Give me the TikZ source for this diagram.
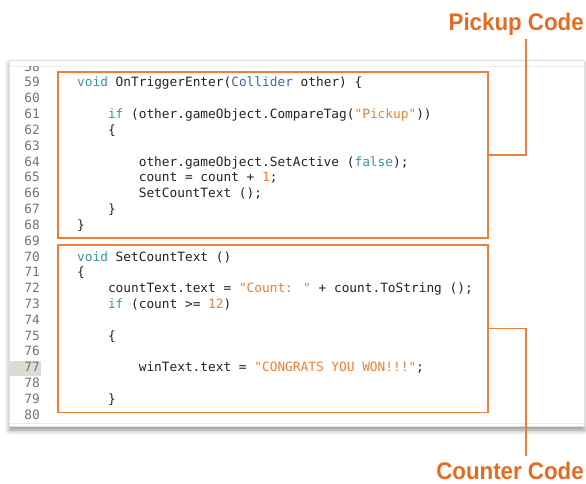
\documentclass[tikz,border=0pt]{standalone}
\usepackage{fontspec}
\usetikzlibrary{shadows.blur}
\newfontfamily\codefont{DejaVu Sans Mono}
\newfontfamily\labelfont[FakeStretch=0.93]{Liberation Sans}

\definecolor{accent}{RGB}{234,128,58}
\definecolor{labelorange}{RGB}{226,108,34}
\definecolor{kwteal}{RGB}{52,150,160}
\definecolor{typeblue}{RGB}{60,105,170}
\definecolor{literal}{RGB}{240,128,50}
\definecolor{plain}{RGB}{35,35,35}
\definecolor{gutter}{RGB}{115,115,115}
\definecolor{curline}{RGB}{216,220,210}

\newcommand{\kw}[1]{\textcolor{kwteal}{#1}}
\newcommand{\ty}[1]{\textcolor{typeblue}{#1}}
\newcommand{\lit}[1]{\textcolor{literal}{#1}}

\begin{document}
\begin{tikzpicture}[x=1pt,y=-1pt,
  codeline/.style={anchor=base west,inner sep=0pt,font=\codefont\fontsize{12.8}{15}\selectfont,text=plain},
  lineno/.style={anchor=base east,inner sep=0pt,font=\codefont\fontsize{12.8}{15}\selectfont,text=gutter},
  codebox/.style={draw=accent,line width=1.3pt,minimum width=430pt,inner sep=0pt},
  leader/.style={draw=accent,line width=1.3pt},
  callout/.style={font=\labelfont\bfseries\fontsize{24}{28}\selectfont,text=labelorange,inner sep=0pt}]
\useasboundingbox (0,0) rectangle (586,484);

% editor panel with its drop shadow
\path[fill=white,draw=black!12,line width=0.6pt,
  blur shadow={shadow xshift=0pt,shadow yshift=-4pt,shadow blur radius=5pt,shadow opacity=45}]
  (9.5,60) rectangle (584,426);
\draw[black!8,line width=0.6pt] (10,66) -- (583.5,66);
\draw[black!8,line width=0.6pt] (10,423.5) -- (583.5,423.5);

% current line marker in the gutter
\fill[curline] (10,360.5) rectangle (41,375.5);

% partially scrolled-out line 58
\begin{scope}
  \clip (10,66.5) rectangle (584,80);
  \node[lineno] (n58) at (40,71.5) {58};
\end{scope}

% line numbers
\foreach \n [count=\i from 0] in {59,...,80}
  \node[lineno] (n\n) at (40,{87+15.82*\i}) {\n};

% source lines
\node[codeline] (l59) at (77,87) {\kw{void} OnTriggerEnter(\ty{Collider} other) \{};
\node[codeline] (l61) at (107.8,118.6) {\kw{if} (other.gameObject.CompareTag(\lit{"Pickup"}))};
\node[codeline] (l62) at (107.8,134.5) {\{};
\node[codeline] (l64) at (138.6,166.1) {other.gameObject.SetActive (\kw{false});};
\node[codeline] (l65) at (138.6,181.9) {count = count + \lit{1};};
\node[codeline] (l66) at (138.6,197.8) {SetCountText ();};
\node[codeline] (l67) at (107.8,213.6) {\}};
\node[codeline] (l68) at (77,229.4) {\}};
\node[codeline] (l70) at (77,261.1) {\kw{void} SetCountText ()};
\node[codeline] (l71) at (77,276.9) {\{};
\node[codeline] (l72) at (107.8,292.7) {countText.text = \lit{"Count: "} + count.ToString ();};
\node[codeline] (l73) at (107.8,308.6) {\kw{if} (count >= \lit{12})};
\node[codeline] (l75) at (107.8,340.2) {\{};
\node[codeline] (l77) at (138.6,371.8) {winText.text = \lit{"CONGRATS YOU WON!!!"};};
\node[codeline] (l79) at (107.8,403.5) {\}};

% highlighted blocks
\node[codebox,minimum height=166pt] (pickupbox) at (273,155) {};
\node[codebox,minimum height=167.5pt] (counterbox) at (273,328.8) {};

% callouts
\node[callout,anchor=base east] (pickuplabel) at (584,31) {Pickup Code};
\node[callout,anchor=base east] (counterlabel) at (584,479.5) {Counter Code};
\coordinate (pickupend) at (526,39);
\coordinate (counterend) at (526,456);
\draw[leader] (pickupbox.east) -| (pickupend);
\draw[leader] (counterbox.east) -| (counterend);
\end{tikzpicture}
\end{document}
